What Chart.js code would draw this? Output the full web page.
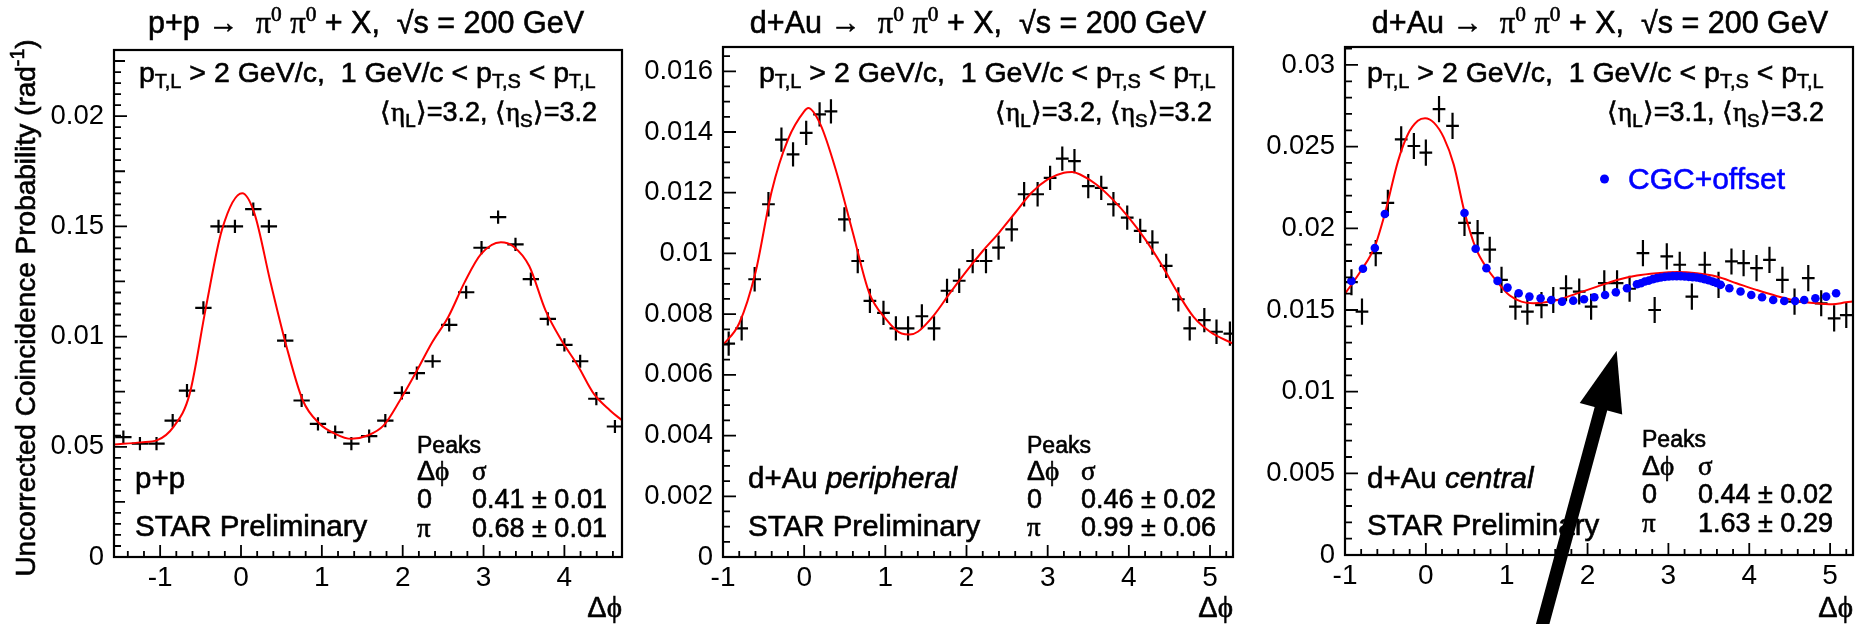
<!DOCTYPE html>
<html>
<head>
<meta charset="utf-8">
<script src="https://cdn.jsdelivr.net/npm/chart.js@4.4.1/dist/chart.umd.min.js"></script>
<style>
  html, body { margin: 0; padding: 0; background: #fff; }
  #wrap { position: relative; width: 1864px; height: 624px; overflow: hidden; }
  canvas { position: absolute; top: 0; }
</style>
</head>
<body>
<div id="wrap">
  <canvas id="c1" width="640" height="624" style="left:0px"></canvas>
  <canvas id="c2" width="610" height="624" style="left:640px"></canvas>
  <canvas id="c3" width="614" height="624" style="left:1250px"></canvas>
</div>
<script>
// axis ticks
const ppTicksX = [-1, 0, 1, 2, 3, 4];
const dAuTicksX = [-1, 0, 1, 2, 3, 4, 5];
const ppTicksY = [0, 0.005, 0.01, 0.015, 0.02];
const ppTickLabelsY = ['0', '0.05', '0.01', '0.15', '0.02'];
const periphTicksY = [0, 0.002, 0.004, 0.006, 0.008, 0.01, 0.012, 0.014, 0.016];
const periphTickLabelsY = ['0', '0.002', '0.004', '0.006', '0.008', '0.01', '0.012', '0.014', '0.016'];
const centralTicksY = [0, 0.005, 0.01, 0.015, 0.02, 0.025, 0.03];
const centralTickLabelsY = ['0', '0.005', '0.01', '0.015', '0.02', '0.025', '0.03'];

// p+p
const ppDphi = [-1.455, -1.25, -1.045, -0.845, -0.668, -0.465, -0.278, -0.075, 0.152, 0.345, 0.547,
  0.75, 0.952, 1.165, 1.365, 1.585, 1.785, 1.99, 2.175, 2.37, 2.575, 2.785, 2.975, 3.18, 3.395,
  3.585, 3.795, 4.0, 4.195, 4.395, 4.625];
const ppProb = [0.00544, 0.00514, 0.00514, 0.00619, 0.00755, 0.0113, 0.015, 0.015, 0.01578, 0.015, 0.00982,
  0.0071, 0.00604, 0.00566, 0.00514, 0.00548, 0.00619, 0.00745, 0.00834, 0.00888, 0.01053, 0.01201, 0.01403, 0.01542, 0.01418,
  0.01261, 0.0108, 0.00962, 0.00888, 0.00718, 0.00592];
const ppFitDphi = [-1.571, -1.235, -1.035, -0.835, -0.635, -0.435, -0.235, 0.015, 0.165, 0.365, 0.565, 0.765,
  0.965, 1.165, 1.365, 1.565, 1.765, 1.965, 2.165, 2.365, 2.565, 2.765, 2.965, 3.215, 3.365, 3.565,
  3.765, 3.965, 4.165, 4.365, 4.565, 4.712];
const ppFit = [0.0051, 0.0052, 0.0053, 0.0059, 0.0074, 0.0113, 0.01485, 0.0165, 0.0156, 0.01246, 0.00952, 0.0071,
  0.00607, 0.00559, 0.00536, 0.00551, 0.00597, 0.0071, 0.00838, 0.00974, 0.0109, 0.01246, 0.01373, 0.01428, 0.0141, 0.0132,
  0.0112, 0.00982, 0.00869, 0.0074, 0.00665, 0.0062];

// d+Au peripheral
const periphDphi = [-0.93, -0.77, -0.61, -0.44, -0.28, -0.137, 0.025, 0.19, 0.33, 0.496, 0.66, 0.81, 0.977, 1.13,
  1.28, 1.45, 1.6, 1.76, 1.91, 2.076, 2.24, 2.395, 2.557, 2.71, 2.876, 3.03, 3.18, 3.33, 3.5, 3.66,
  3.81, 3.98, 4.14, 4.29, 4.46, 4.61, 4.75, 4.93, 5.08, 5.245];
const periphProb = [0.00703, 0.00753, 0.00915, 0.01162, 0.01375, 0.01326, 0.01397, 0.01458, 0.01468, 0.01112, 0.00975, 0.00844, 0.00804, 0.00753,
  0.00753, 0.00793, 0.00753, 0.00877, 0.0091, 0.00975, 0.00975, 0.01019, 0.01079, 0.01195, 0.01195, 0.01249, 0.01312, 0.01304, 0.01222, 0.01216,
  0.01162, 0.01118, 0.01074, 0.01036, 0.00959, 0.00849, 0.00753, 0.0078, 0.00742, 0.00736];
const periphFitDphi = [-1, -0.8, -0.6, -0.4, -0.2, 0, 0.05, 0.2, 0.4, 0.6, 0.8, 1.0, 1.2, 1.3, 1.4, 1.6, 1.8, 2.0,
  2.2, 2.4, 2.6, 2.8, 3.0, 3.2, 3.3, 3.4, 3.6, 3.8, 4.0, 4.2, 4.4, 4.6, 4.8, 5.0, 5.283];
const periphFit = [0.00698, 0.0077, 0.00937, 0.01205, 0.01375, 0.01468, 0.01479, 0.01425, 0.01266, 0.01068, 0.00871, 0.00786, 0.00736, 0.00733, 0.00742, 0.00797, 0.00871, 0.00942,
  0.01008, 0.01068, 0.01134, 0.012, 0.01244, 0.01266, 0.01268, 0.0126, 0.01227, 0.01178, 0.01118, 0.01047, 0.00964, 0.00871, 0.0079, 0.00742, 0.00703];

// d+Au central
const centralDphi = [-0.92, -0.79, -0.62, -0.47, -0.305, -0.148, 0.0, 0.163, 0.33, 0.478, 0.64, 0.79, 0.936, 1.108,
  1.256, 1.43, 1.576, 1.734, 1.897, 2.044, 2.207, 2.365, 2.52, 2.685, 2.83, 2.98, 3.14, 3.29, 3.45, 3.62,
  3.78, 3.93, 4.09, 4.25, 4.41, 4.56, 4.73, 4.89, 5.05, 5.2];
const centralProb = [0.0167, 0.0149, 0.01848, 0.02156, 0.02545, 0.02504, 0.02463, 0.0273, 0.02627, 0.02033, 0.01971, 0.01869, 0.01684, 0.0152,
  0.0149, 0.0153, 0.01561, 0.01633, 0.01613, 0.0152, 0.01664, 0.01664, 0.0163, 0.01848, 0.015, 0.01828, 0.01777, 0.01582, 0.01777, 0.01654,
  0.01797, 0.01787, 0.01756, 0.01807, 0.01684, 0.01551, 0.01695, 0.01541, 0.01449, 0.01469];
const centralFitDphi = [-1, -0.803, -0.631, -0.507, -0.468, -0.345, -0.222, -0.099, -0.01, 0.099, 0.222, 0.345, 0.478, 0.616,
  0.749, 0.887, 1.034, 1.182, 1.33, 1.478, 1.626, 1.872, 2.118, 2.365, 2.611, 2.857, 3.103, 3.35, 3.596,
  3.842, 4.089, 4.335, 4.581, 4.828, 5.025, 5.197, 5.283];
const centralFit = [0.016, 0.0174, 0.0189, 0.0209, 0.02166, 0.0241, 0.02576, 0.02658, 0.02674, 0.02647, 0.02555, 0.0239, 0.021, 0.0188,
  0.0176, 0.0167, 0.0159, 0.01551, 0.01541, 0.01547, 0.01561, 0.01602, 0.01643, 0.01684, 0.01711, 0.01725, 0.01732, 0.01725, 0.01705,
  0.01664, 0.01623, 0.01586, 0.01557, 0.01541, 0.01535, 0.01547, 0.01552];
const cgcDphi = [-0.921, -0.778, -0.631, -0.507, 0.478, 0.616, 0.749, 0.887, 1.01, 1.148, 1.281, 1.419, 1.552, 1.685,
  1.823, 1.956, 2.084, 2.217, 2.35, 2.488, 2.611, 2.66, 2.709, 2.759, 2.808, 2.857, 2.906, 2.956, 3.005,
  3.054, 3.103, 3.153, 3.202, 3.251, 3.3, 3.35, 3.399, 3.448, 3.498, 3.547, 3.596, 3.645, 3.754, 3.892,
  4.025, 4.158, 4.296, 4.433, 4.567, 4.68, 4.818, 4.951, 5.074];
const cgcProb = [0.01678, 0.01752, 0.01879, 0.02088, 0.02094, 0.01875, 0.01756, 0.01678, 0.01637, 0.01602, 0.01582, 0.01572, 0.01561, 0.01551,
  0.01557, 0.01566, 0.01578, 0.01592, 0.01609, 0.01633, 0.01658, 0.01664, 0.01674, 0.0168, 0.01689, 0.01695, 0.01699, 0.01703, 0.01705,
  0.01707, 0.01707, 0.01707, 0.01705, 0.01703, 0.01701, 0.01699, 0.01695, 0.01689, 0.01682, 0.01674, 0.01666, 0.01654, 0.01633, 0.01613,
  0.01592, 0.01578, 0.01561, 0.01555, 0.01555, 0.01561, 0.01572, 0.01582, 0.01602];

const SANS = '"Liberation Sans", Arial, Helvetica, sans-serif';
const SERIF = '"Liberation Serif", "DejaVu Serif", "Times New Roman", serif';
Chart.defaults.font.family = SANS;
Chart.defaults.color = '#000';

// tiny TLatex-like markup: _{sub} ^{sup} #g{greek serif} #i{italic}
function parseRich(s) {
  const out = [];
  const stack = [{}];
  let buf = '';
  const top = () => stack[stack.length - 1];
  const flush = () => { if (buf) { out.push(Object.assign({ t: buf }, top())); buf = ''; } };
  for (let i = 0; i < s.length; i++) {
    const c = s[i];
    if ((c === '_' || c === '^') && s[i + 1] === '{') {
      flush(); stack.push(Object.assign({}, top(), { v: c === '_' ? 'sub' : 'sup' })); i++;
    } else if (c === '#' && s[i + 2] === '{') {
      flush(); stack.push(Object.assign({}, top(), s[i + 1] === 'g' ? { g: true } : { it: true })); i += 2;
    } else if (c === '}' && stack.length > 1) {
      flush(); stack.pop();
    } else buf += c;
  }
  flush();
  return out;
}

function fontOf(g) {
  return (g.it ? 'italic ' : '') + g.px + 'px ' + (g.g ? SERIF : SANS);
}

function drawRich(ctx, it, offX) {
  const segs = parseRich(it.s);
  const size = it.size || 27;
  ctx.save();
  ctx.translate(it.x - offX, it.y);
  if (it.rot) ctx.rotate(it.rot);
  let w = 0;
  segs.forEach(g => {
    g.px = g.v ? size * 0.7 : size;
    ctx.font = fontOf(g);
    g.w = ctx.measureText(g.t).width;
    w += g.w;
  });
  let cx = it.align === 'right' ? -w : it.align === 'center' ? -w / 2 : 0;
  ctx.fillStyle = it.color || '#000';
  ctx.strokeStyle = it.color || '#000';
  ctx.lineWidth = 0.6;
  ctx.textBaseline = 'alphabetic';
  ctx.textAlign = 'left';
  segs.forEach(g => {
    ctx.font = fontOf(g);
    const dy = g.v === 'sub' ? size * 0.22 : g.v === 'sup' ? -size * 0.38 : 0;
    ctx.fillText(g.t, cx, dy);
    ctx.strokeText(g.t, cx, dy);
    cx += g.w;
  });
  ctx.restore();
}

const line1 = 'p_{T,L} > 2 GeV/c,  1 GeV/c < p_{T,S} < p_{T,L}';

const panels = {
  c1: {
    off: 0, dphi: ppDphi, prob: ppProb, halfBin: 0.101, err: 0.0003,
    yMinor: 0.0005, yMajor: 0.005, yMid: 0.0025,
    texts: [
      { s: 'p+p #g{→}  #g{π^{0}} #g{π^{0}} + X,  √s = 200 GeV', x: 366, y: 33, size: 30.5, align: 'center' },
      { s: line1, x: 139, y: 82, size: 28.5 },
      { s: '⟨#g{η}_{L}⟩=3.2, ⟨#g{η}_{S}⟩=3.2', x: 597, y: 121, align: 'right' },
      { s: 'p+p', x: 135, y: 488, size: 29.5 },
      { s: 'STAR Preliminary', x: 135, y: 536, size: 29.5 },
      { s: 'Peaks', x: 417, y: 453, size: 23 },
      { s: 'Δ#g{ϕ}', x: 417, y: 480 }, { s: '#g{σ}', x: 472, y: 480 },
      { s: '0', x: 417, y: 508 }, { s: '0.41 ± 0.01', x: 472, y: 508 },
      { s: '#g{π}', x: 417, y: 537 }, { s: '0.68 ± 0.01', x: 472, y: 537 },
      { s: 'Δ#g{ϕ}', x: 622, y: 617, size: 29, align: 'right' },
      { s: 'Uncorrected Coincidence Probability (rad^{-1})', x: 35, y: 308, size: 28, align: 'center', rot: -Math.PI / 2 }
    ]
  },
  c2: {
    off: 640, dphi: periphDphi, prob: periphProb, halfBin: 0.0785, err: 0.0004,
    yMinor: 0.0005, yMajor: 0.002,
    texts: [
      { s: 'd+Au #g{→}  #g{π^{0}} #g{π^{0}} + X,  √s = 200 GeV', x: 978, y: 33, size: 30.5, align: 'center' },
      { s: line1, x: 759, y: 82, size: 28.5 },
      { s: '⟨#g{η}_{L}⟩=3.2, ⟨#g{η}_{S}⟩=3.2', x: 1212, y: 121, align: 'right' },
      { s: 'd+Au #i{peripheral}', x: 748, y: 488, size: 29.5 },
      { s: 'STAR Preliminary', x: 748, y: 536, size: 29.5 },
      { s: 'Peaks', x: 1027, y: 453, size: 23 },
      { s: 'Δ#g{ϕ}', x: 1027, y: 480 }, { s: '#g{σ}', x: 1081, y: 480 },
      { s: '0', x: 1027, y: 508 }, { s: '0.46 ± 0.02', x: 1081, y: 508 },
      { s: '#g{π}', x: 1027, y: 536 }, { s: '0.99 ± 0.06', x: 1081, y: 536 },
      { s: 'Δ#g{ϕ}', x: 1233, y: 617, size: 29, align: 'right' }
    ]
  },
  c3: {
    off: 1250, dphi: centralDphi, prob: centralProb, halfBin: 0.0785, err: 0.0008,
    yMinor: 0.001, yMajor: 0.005,
    dot: { x: 1604.5, y: 179 },
    arrow: { fromX: 1.43, fromY: -0.0045, toX: 2.36, toY: 0.0125 },
    texts: [
      { s: 'd+Au #g{→}  #g{π^{0}} #g{π^{0}} + X,  √s = 200 GeV', x: 1600, y: 33, size: 30.5, align: 'center' },
      { s: line1, x: 1367, y: 82, size: 28.5 },
      { s: '⟨#g{η}_{L}⟩=3.1, ⟨#g{η}_{S}⟩=3.2', x: 1824, y: 121, align: 'right' },
      { s: 'CGC+offset', x: 1628, y: 189, size: 30, color: '#0000ff' },
      { s: 'd+Au #i{central}', x: 1367, y: 488, size: 29.5 },
      { s: 'STAR Preliminary', x: 1367, y: 535, size: 29.5 },
      { s: 'Peaks', x: 1642, y: 447, size: 23 },
      { s: 'Δ#g{ϕ}', x: 1642, y: 475 }, { s: '#g{σ}', x: 1698, y: 475 },
      { s: '0', x: 1642, y: 503 }, { s: '0.44 ± 0.02', x: 1698, y: 503 },
      { s: '#g{π}', x: 1642, y: 532 }, { s: '1.63 ± 0.29', x: 1698, y: 532 },
      { s: 'Δ#g{ϕ}', x: 1853, y: 617, size: 29, align: 'right' }
    ]
  }
};

function isMult(v, step) {
  const r = v / step;
  return Math.abs(r - Math.round(r)) < 1e-6;
}

const rootPlugin = {
  id: 'rootLook',
  beforeDatasetsDraw(chart) {
    const p = panels[chart.canvas.id];
    const ctx = chart.ctx, a = chart.chartArea, xs = chart.scales.x, ys = chart.scales.y;
    ctx.save();
    ctx.beginPath();
    ctx.rect(a.left, a.top, a.right - a.left, a.bottom - a.top);
    ctx.clip();
    ctx.strokeStyle = '#000';
    ctx.lineWidth = 2.2;
    ctx.beginPath();
    p.dphi.forEach((x, i) => {
      const y = p.prob[i];
      const px = xs.getPixelForValue(x), py = ys.getPixelForValue(y);
      ctx.moveTo(xs.getPixelForValue(x - p.halfBin), py);
      ctx.lineTo(xs.getPixelForValue(x + p.halfBin), py);
      ctx.moveTo(px, ys.getPixelForValue(y - p.err));
      ctx.lineTo(px, ys.getPixelForValue(y + p.err));
    });
    ctx.stroke();
    ctx.restore();
  },
  afterDraw(chart) {
    const p = panels[chart.canvas.id];
    const ctx = chart.ctx, a = chart.chartArea, xs = chart.scales.x, ys = chart.scales.y;
    ctx.save();
    ctx.strokeStyle = '#000';
    ctx.lineWidth = 2.2;
    ctx.strokeRect(a.left, a.top, a.right - a.left, a.bottom - a.top);
    ctx.lineWidth = 1.8;
    ctx.beginPath();
    for (let k = Math.ceil(xs.min / 0.2 - 1e-9); k <= Math.floor(xs.max / 0.2 + 1e-9); k++) {
      const v = k * 0.2;
      const px = xs.getPixelForValue(v);
      const len = isMult(v, 1) ? 12 : 6;
      ctx.moveTo(px, a.bottom);
      ctx.lineTo(px, a.bottom - len);
    }
    for (let k = 1; k * p.yMinor <= ys.max + 1e-12; k++) {
      const v = k * p.yMinor;
      const py = ys.getPixelForValue(v);
      let len = 7;
      if (isMult(v, p.yMajor)) len = 13;
      else if (p.yMid && isMult(v, p.yMid)) len = 11;
      ctx.moveTo(a.left, py);
      ctx.lineTo(a.left + len, py);
    }
    ctx.stroke();

    p.texts.forEach(t => drawRich(ctx, t, p.off));

    if (p.dot) {
      ctx.fillStyle = '#0000ff';
      ctx.beginPath();
      ctx.arc(p.dot.x - p.off, p.dot.y, 4.5, 0, Math.PI * 2);
      ctx.fill();
    }
    if (p.arrow) {
      const x0 = xs.getPixelForValue(p.arrow.fromX), y0 = ys.getPixelForValue(p.arrow.fromY);
      const x1 = xs.getPixelForValue(p.arrow.toX), y1 = ys.getPixelForValue(p.arrow.toY);
      const ang = Math.atan2(y1 - y0, x1 - x0);
      const L = 60, H = 22;
      const bx = x1 - L * Math.cos(ang), by = y1 - L * Math.sin(ang);
      ctx.strokeStyle = '#000';
      ctx.fillStyle = '#000';
      ctx.lineWidth = 13;
      ctx.lineCap = 'butt';
      ctx.beginPath();
      ctx.moveTo(x0, y0);
      ctx.lineTo(bx + 2 * Math.cos(ang), by + 2 * Math.sin(ang));
      ctx.stroke();
      ctx.beginPath();
      ctx.moveTo(x1, y1);
      ctx.lineTo(bx + H * Math.sin(ang), by - H * Math.cos(ang));
      ctx.lineTo(bx - H * Math.sin(ang), by + H * Math.cos(ang));
      ctx.closePath();
      ctx.fill();
    }
    ctx.restore();
  }
};

function toPoints(xs, ys) {
  return xs.map((x, i) => ({ x: x, y: ys[i] }));
}

function makeChart(id, cfg) {
  const datasets = [{
    label: 'fit',
    data: toPoints(cfg.fitX, cfg.fitY),
    showLine: true,
    borderColor: '#ff0000',
    borderWidth: 2,
    pointRadius: 0,
    tension: 0.4,
    cubicInterpolationMode: 'monotone',
    fill: false,
    order: 1
  }];
  if (cfg.dotsX) {
    datasets.push({
      label: 'CGC+offset',
      data: toPoints(cfg.dotsX, cfg.dotsY),
      showLine: false,
      pointRadius: 4.3,
      pointBorderWidth: 0,
      pointBackgroundColor: '#0000ff',
      order: 0
    });
  }
  return new Chart(document.getElementById(id), {
    type: 'scatter',
    data: { datasets: datasets },
    plugins: [rootPlugin],
    options: {
      responsive: false,
      animation: false,
      events: [],
      layout: { padding: { left: 0, right: cfg.padRight, top: cfg.padTop, bottom: 0 } },
      plugins: { legend: { display: false }, tooltip: { enabled: false } },
      scales: {
        x: {
          type: 'linear',
          min: cfg.xMin,
          max: cfg.xMax,
          afterBuildTicks: s => { s.ticks = cfg.ticksX.map(v => ({ value: v })); },
          afterFit: s => { s.height = cfg.xHeight; },
          grid: { display: false, drawTicks: false },
          border: { display: false },
          ticks: { padding: 4, font: { size: 28 }, maxRotation: 0, minRotation: 0, autoSkip: false,
            callback: v => String(v) }
        },
        y: {
          type: 'linear',
          min: 0,
          max: cfg.yMax,
          afterBuildTicks: s => { s.ticks = cfg.ticksY.map(v => ({ value: v })); },
          afterFit: s => { s.width = cfg.yWidth; },
          grid: { display: false, drawTicks: false },
          border: { display: false },
          ticks: { padding: 10, font: { size: 27.5 }, autoSkip: false,
            callback: (v, i) => cfg.labelsY[i] }
        }
      }
    }
  });
}

makeChart('c1', {
  fitX: ppFitDphi, fitY: ppFit,
  xMin: -Math.PI / 2, xMax: 3 * Math.PI / 2, yMax: 0.023,
  ticksX: ppTicksX, ticksY: ppTicksY, labelsY: ppTickLabelsY,
  padRight: 18, padTop: 50, xHeight: 67, yWidth: 114
});
makeChart('c2', {
  fitX: periphFitDphi, fitY: periphFit,
  xMin: -1, xMax: 2 * Math.PI - 1, yMax: 0.0168,
  ticksX: dAuTicksX, ticksY: periphTicksY, labelsY: periphTickLabelsY,
  padRight: 17, padTop: 47, xHeight: 67, yWidth: 83
});
makeChart('c3', {
  fitX: centralFitDphi, fitY: centralFit, dotsX: cgcDphi, dotsY: cgcProb,
  xMin: -1, xMax: 2 * Math.PI - 1, yMax: 0.0311,
  ticksX: dAuTicksX, ticksY: centralTicksY, labelsY: centralTickLabelsY,
  padRight: 11, padTop: 47, xHeight: 69, yWidth: 95
});
</script>
</body>
</html>
